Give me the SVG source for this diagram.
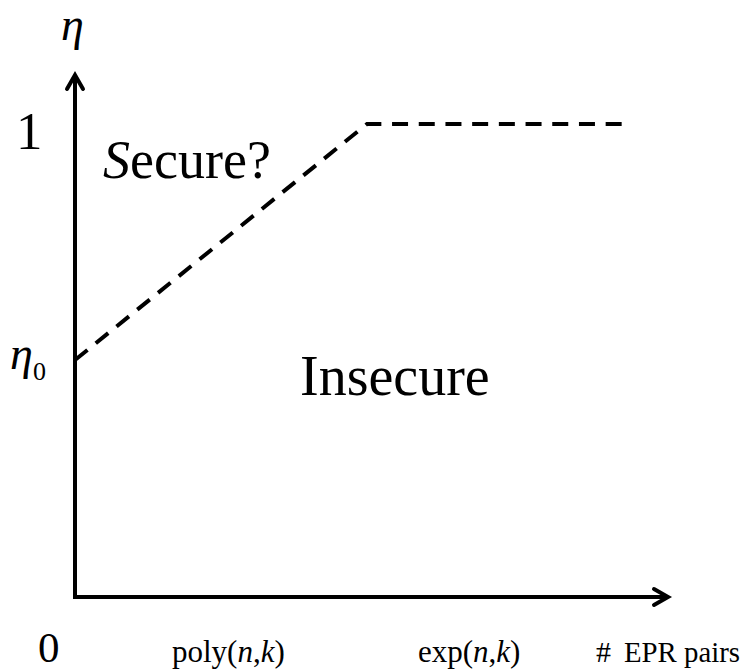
<svg xmlns="http://www.w3.org/2000/svg" width="745" height="671" viewBox="0 0 745 671">
<style>
.t{font-family:"Liberation Serif","Times New Roman",serif;fill:#000}
.i{font-style:italic}
.ax{stroke:#000;stroke-width:4;fill:none}
.ah{stroke:#000;stroke-width:4;fill:none;stroke-linecap:round;stroke-linejoin:miter}
.ds{stroke:#000;stroke-width:4;fill:none;stroke-dasharray:16 10.7}
</style>
<rect width="745" height="671" fill="#fff"/>
<g id="connectors">
<path class="ax" d="M75,75 V597 H667"/>
<path class="ah" d="M67,89 L75,75 L83,89"/>
<path class="ah" d="M654,589 L668,597 L654,605"/>
<path class="ds" d="M75,360 L367,124 L622,124"/>
</g>
<g id="y-label"><text class="t i" x="61" y="40" font-size="46">η</text></g>
<g id="tick-1"><text class="t" x="16" y="149" font-size="53">1</text></g>
<g id="tick-eta0"><text class="t i" x="10" y="369" font-size="46">η</text><text class="t" x="33" y="380" font-size="26">0</text></g>
<g id="region-secure"><text class="t" x="103" y="178" font-size="54"><tspan class="i">S</tspan>ecure?</text></g>
<g id="region-insecure"><text class="t" x="300" y="395" font-size="56">Insecure</text></g>
<g id="tick-0"><text class="t" x="38" y="662" font-size="43">0</text></g>
<g id="tick-poly"><text class="t" x="172" y="662" font-size="31">poly(<tspan class="i">n</tspan>,<tspan class="i">k</tspan>)</text></g>
<g id="tick-exp"><text class="t" x="418" y="662" font-size="31">exp(<tspan class="i">n</tspan>,<tspan class="i">k</tspan>)</text></g>
<g id="x-label"><text class="t" x="596" y="662" font-size="30">#</text><text class="t" x="624" y="662" font-size="29" textLength="116" lengthAdjust="spacingAndGlyphs">EPR pairs</text></g>
</svg>
